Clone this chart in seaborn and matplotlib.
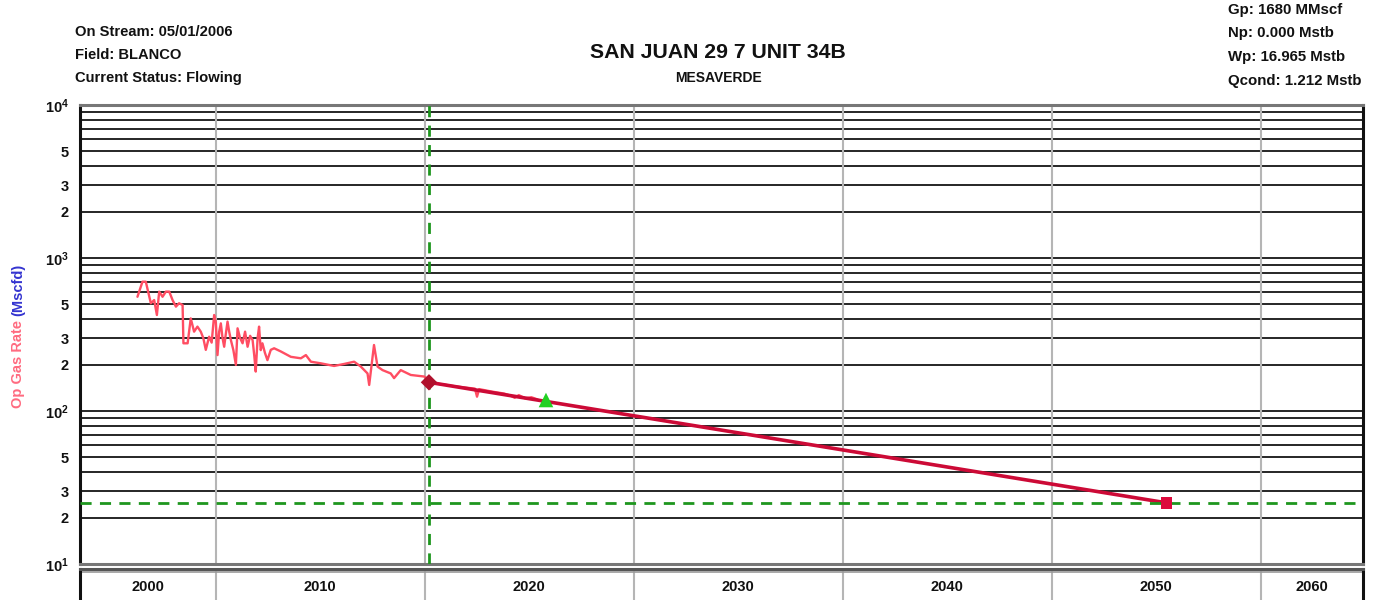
import matplotlib
matplotlib.use("Agg")
import matplotlib.pyplot as plt
import seaborn as sns
from matplotlib.ticker import FixedLocator, FixedFormatter

sns.set_style("white")
plt.rcParams['font.family'] = ['Liberation Sans', 'DejaVu Sans']
plt.rcParams['font.weight'] = 'bold'
plt.rcParams['mathtext.fontset'] = 'custom'
plt.rcParams['mathtext.rm'] = 'Liberation Sans:bold'
plt.rcParams['mathtext.bf'] = 'Liberation Sans:bold'

# ------------------------------------------------------------------
# Data (year as decimal, rate in Mscf/d)
# ------------------------------------------------------------------
hist_year = [2006.25, 2006.49, 2006.65, 2006.89, 2007.05, 2007.18, 2007.29, 2007.45,
             2007.61, 2007.77, 2007.93, 2008.09, 2008.24, 2008.41, 2008.45, 2008.65,
             2008.80, 2008.96, 2009.12, 2009.28, 2009.40, 2009.52, 2009.68, 2009.80,
             2009.92, 2010.00, 2010.08, 2010.16, 2010.24, 2010.32, 2010.40, 2010.48,
             2010.56, 2010.64, 2010.72, 2010.84, 2010.96, 2011.04, 2011.16, 2011.28,
             2011.40, 2011.52, 2011.64, 2011.76, 2011.84, 2011.91, 2012.00, 2012.07,
             2012.15, 2012.23, 2012.35, 2012.47, 2012.63, 2012.79, 2013.11,
             2013.59, 2014.07, 2014.31, 2014.55, 2015.02, 2015.66, 2016.14, 2016.62,
             2016.94, 2017.26, 2017.34, 2017.57, 2017.74, 2017.98, 2018.37, 2018.53,
             2018.85, 2019.33, 2019.97,
             2020.40, 2020.90, 2021.30, 2021.80, 2022.40, 2022.50, 2022.60, 2023.20,
             2023.80, 2024.10, 2024.30, 2024.50, 2024.80, 2025.10, 2025.40]
hist_rate = [558, 700, 700, 506, 531, 424, 603, 558,
             603, 603, 531, 481, 506, 493, 277, 277,
             403, 330, 356, 330, 300, 251, 306, 280,
             424, 380, 232, 330, 374, 300, 263, 320,
             384, 330, 291, 250, 200, 347, 300, 277,
             330, 263, 310, 291, 230, 181, 300, 356,
             250, 277, 240, 215, 251, 257, 245,
             226, 221, 232, 210, 205, 197, 203, 210,
             195, 176, 148, 270, 195, 185, 176, 164,
             185, 172, 168,
             152, 149, 146, 143, 140, 124, 139, 134,
             130, 126, 122, 127, 121, 123, 119]

fc_year = [2020.2, 2055.5]
fc_rate = [154, 25.1]

start_pt = (2020.2, 154)      # forecast start (diamond)
last_pt = (2025.8, 118)       # last production (triangle)
end_pt = (2055.5, 25.1)       # end of forecast (square)
cut_year = 2020.2
econ_limit = 25.0

decades = [2000, 2010, 2020, 2030, 2040, 2050, 2060]
x_min, x_max = 2003.5, 2064.9

left_info = ["On Stream: 05/01/2006", "Field: BLANCO", "Current Status: Flowing"]
right_info = ["Gp: 1680 MMscf", "Np: 0.000 Mstb", "Wp: 16.965 Mstb", "Qcond: 1.212 Mstb"]
title = "SAN JUAN 29 7 UNIT 34B"
subtitle = "MESAVERDE"

# ------------------------------------------------------------------
W, H = 1374, 600
fig = plt.figure(figsize=(W / 100, H / 100), dpi=100)

def fx(px):
    return px / W

def fy(py):
    return 1 - py / H

ax_l, ax_r = 80, 1363
ax = fig.add_axes([fx(ax_l), fy(564), fx(ax_r - ax_l), fy(105) - fy(564)])
ax.set_yscale('log')
ax.set_xlim(x_min, x_max)
ax.set_ylim(10, 10000)

# gridlines at every log subdivision
y_ticks = [k * 10 ** e for e in (1, 2, 3) for k in range(1, 10)] + [10000]
y_labels = []
for v in y_ticks:
    e = len(str(int(v))) - 1
    k = int(v // 10 ** e)
    if k == 1:
        y_labels.append(r'$\mathbf{10^{%d}}$' % e)
    elif k in (2, 3, 5):
        y_labels.append(str(k))
    else:
        y_labels.append('')
ax.yaxis.set_major_locator(FixedLocator(y_ticks))
ax.yaxis.set_major_formatter(FixedFormatter(y_labels))
ax.yaxis.set_minor_locator(FixedLocator([]))
ax.set_xticks(decades[1:])
ax.set_xticklabels([])
ax.tick_params(axis='y', which='major', direction='out', length=5, width=1.3,
               color='#222222', labelsize=10.5, pad=3, labelcolor='#111111')
ax.tick_params(axis='x', length=0)
for v in y_ticks:
    ax.axhline(v, color='#262626', lw=1.4, zorder=1)
for d in decades[1:]:
    ax.axvline(d, color='#b5b5b5', lw=1.5, zorder=1)

# production history and forecast
sns.lineplot(x=hist_year, y=hist_rate, ax=ax, color='#ff4d62', lw=1.7,
             sort=False, estimator=None, zorder=3)
sns.lineplot(x=fc_year, y=fc_rate, ax=ax, color='#cc0a36', lw=2.6,
             sort=False, estimator=None, zorder=4)

ax.axvline(cut_year, color='#1e961e', lw=2, ls=(0, (4, 3)), zorder=5)
ax.axhline(econ_limit, color='#1e961e', lw=2, ls=(0, (4, 3)), zorder=5)

sns.scatterplot(x=[start_pt[0]], y=[start_pt[1]], ax=ax, marker='D', s=70,
                color='#b0102c', edgecolor='none', zorder=6)
sns.scatterplot(x=[last_pt[0]], y=[last_pt[1]], ax=ax, marker='^', s=110,
                color='#22d022', edgecolor='none', zorder=6)
sns.scatterplot(x=[end_pt[0]], y=[end_pt[1]], ax=ax, marker='s', s=70,
                color='#dc0a3c', edgecolor='none', zorder=6)

for side in ['left', 'right']:
    ax.spines[side].set_color('#111111')
    ax.spines[side].set_linewidth(2.2)
for side in ['top', 'bottom']:
    ax.spines[side].set_color('#777777')
    ax.spines[side].set_linewidth(2.2)
ax.set_xlabel('')
ax.set_ylabel('')

# year strip below the plot
ax2 = fig.add_axes([fx(ax_l), 0, fx(ax_r - ax_l), fy(569)])
ax2.set_xlim(x_min, x_max)
ax2.set_ylim(0, 1)
ax2.set_xticks([])
ax2.set_yticks([])
for d in decades[1:]:
    ax2.axvline(d, color='#b5b5b5', lw=1.5)
for d in decades:
    lo = max(d, x_min)
    hi = min(d + 10, x_max)
    ax2.text((lo + hi) / 2, 0.42, str(d), ha='center', va='center',
             fontsize=10.5, fontweight='bold', color='#111111')
ax2.spines['bottom'].set_visible(False)
ax2.spines['top'].set_color('#555555')
ax2.spines['top'].set_linewidth(2.2)
ax2.axhline(0.9, color='#999999', lw=1.2)
for side in ['left', 'right']:
    ax2.spines[side].set_color('#111111')
    ax2.spines[side].set_linewidth(2.2)

# y label in two colours, placed end to end
lab1 = fig.text(fx(18), fy(408), "Op Gas Rate", rotation=90, ha='center', va='bottom',
                color='#ff6b80', fontsize=10.5, fontweight='bold')
fig.canvas.draw()
top1 = lab1.get_window_extent().y1
fig.text(fx(18), (top1 + 4) / H, "(Mscfd)", rotation=90, ha='center', va='bottom',
         color='#3434d0', fontsize=10.5, fontweight='bold')

# header texts
for i, s in enumerate(left_info):
    fig.text(fx(75), fy(32 + 23 * i), s, ha='left', va='center',
             fontsize=10.6, fontweight='bold', color='#111111')
for i, s in enumerate(right_info):
    fig.text(fx(1228), fy(10 + 23.5 * i), s, ha='left', va='center',
             fontsize=10.8, fontweight='bold', color='#111111')
fig.text(fx(718), fy(52), title, ha='center', va='center', fontsize=15.3,
         fontweight='bold', color='#111111')
fig.text(fx(719), fy(78), subtitle, ha='center', va='center', fontsize=10,
         fontweight='bold', color='#111111')

fig.savefig('out.png', dpi=100)
